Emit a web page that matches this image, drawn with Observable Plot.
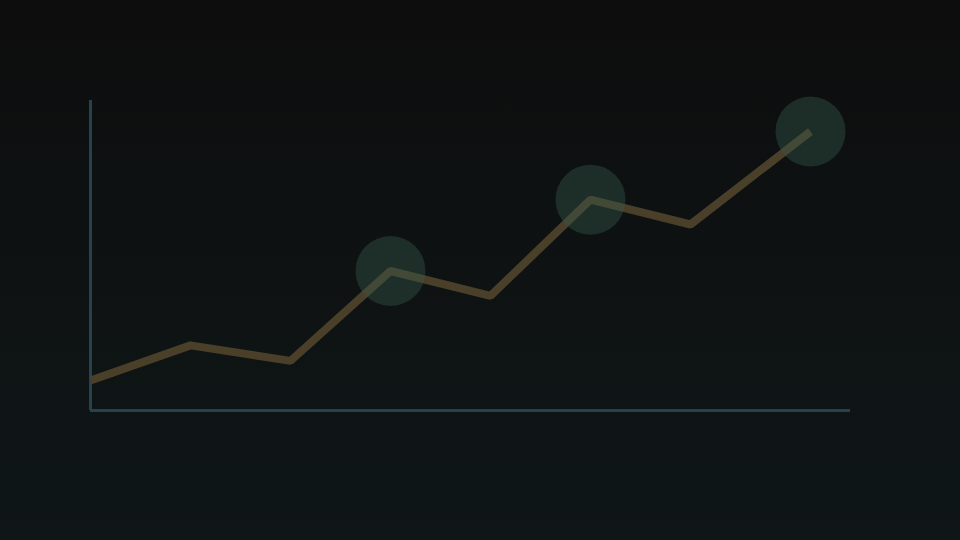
<!DOCTYPE html>
<html>
<head>
<meta charset="utf-8">
<script src="https://cdn.jsdelivr.net/npm/d3@7"></script>
<script src="https://cdn.jsdelivr.net/npm/@observablehq/plot@0.6"></script>
<style>
  html, body { margin: 0; padding: 0; width: 960px; height: 540px; overflow: hidden; }
  body { background: linear-gradient(to bottom, #0d0d0d 0%, #0e1213 50%, #0f1617 100%); }
  svg { background: transparent !important; display: block; }
</style>
</head>
<body>
<div id="chart"></div>
<script>
const xs = [0, 1, 2, 3, 4, 5, 6, 7.2];
const ys = [9.7, 21, 16, 45, 37, 68, 60, 90];
const highlightIdx = [3, 5, 7];
const xMax = 7.6;
const yMax = 100;

const data = xs.map((x, i) => ({x, y: ys[i]}));
const highlights = highlightIdx.map(i => data[i]);

const chart = Plot.plot({
  width: 960,
  height: 540,
  margin: 0,
  style: {background: "transparent"},
  x: {domain: [0, xMax], range: [90, 850], axis: null},
  y: {domain: [0, yMax], range: [410, 100], axis: null},
  marks: [
    Plot.ruleX([0], {y1: 0, y2: yMax, stroke: "#26424f", strokeWidth: 3}),
    Plot.ruleY([0], {x1: 0, x2: xMax, stroke: "#26424f", strokeWidth: 3}),
    Plot.line(data, {x: "x", y: "y", stroke: "#4a3f29", strokeWidth: 8, strokeLinejoin: "miter", strokeLinecap: "butt"}),
    Plot.dot(highlights, {x: "x", y: "y", r: 35, fill: "#385a4b", fillOpacity: 0.4, stroke: "none"})
  ]
});
document.getElementById("chart").appendChild(chart);
</script>
</body>
</html>
